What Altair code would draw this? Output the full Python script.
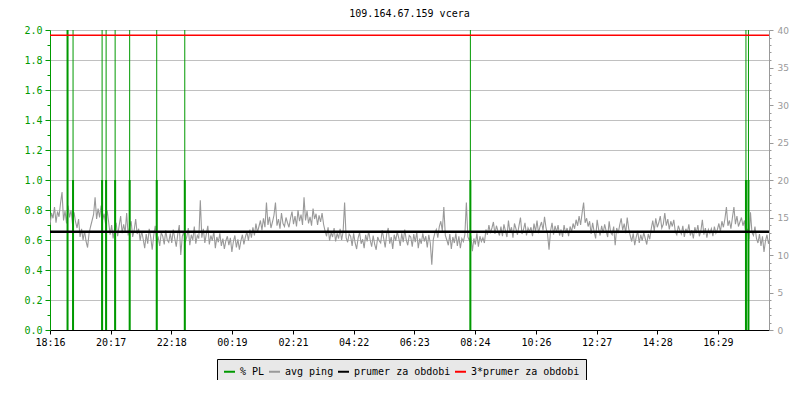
import altair as alt
import pandas as pd

# ---------------- data ----------------
title_text = "109.164.67.159 vcera"
series_names = ["% PL", "avg ping", "prumer za obdobi", "3*prumer za obdobi"]
tick_labels = ["18:16", "20:17", "22:18", "00:19", "02:21", "04:22",
               "06:23", "08:24", "10:26", "12:27", "14:28", "16:29"]
period_minutes = 1435          # length of the shown period (minutes)
sample_step = 3                # minutes between ping samples

# average ping (ms), one value every 3 minutes from 18:16
ping_ms = [
    14.0, 15.6, 14.9, 16.4, 14.3, 15.8, 15.1, 16.9, 18.4, 14.6, 15.9, 14.2, 16.6, 15.0, 16.0, 14.1, 15.7, 14.4, 13.6, 14.8,
    12.4, 13.5, 12.0, 13.2, 11.8, 11.0, 12.9, 13.8, 14.6, 15.4, 17.7, 14.8, 16.2, 15.0, 16.6, 14.7, 15.5, 14.1, 16.0, 14.4,
    12.7, 14.0, 12.2, 13.6, 14.3, 12.5, 13.9, 15.2, 12.9, 14.1, 13.0, 15.6, 12.6, 13.8, 14.5, 12.4, 13.3, 14.8, 12.8, 13.5,
    11.9, 13.2, 12.1, 10.9, 12.8, 11.5, 13.5, 12.4, 10.7, 12.6, 13.9, 11.8, 12.3, 11.2, 13.0, 12.5, 11.4, 13.3, 12.0, 11.7,
    12.9, 11.6, 13.4, 12.2, 11.1, 12.8, 14.0, 10.0, 12.5, 13.1, 11.7, 12.4, 13.6, 11.3, 12.7, 12.0, 13.8, 11.5, 12.6, 12.2,
    17.3, 12.3, 13.5, 11.6, 12.8, 13.9, 11.4, 12.6, 11.9, 13.2, 10.9, 12.4, 11.7, 12.9, 11.2, 12.2, 10.8, 11.9, 12.5, 11.3,
    12.3, 10.4, 11.8, 12.6, 11.0, 12.1, 10.7, 11.9, 12.7, 11.4, 12.4, 13.1, 11.9, 13.4, 12.3, 13.7, 12.6, 14.2, 13.0, 13.8,
    14.6, 13.3, 14.9, 13.7, 17.0, 14.0, 15.1, 13.6, 14.4, 15.3, 17.0, 13.9, 14.8, 13.5, 15.6, 14.2, 13.8, 15.0, 14.3, 13.7,
    14.9, 15.8, 14.1, 15.2, 13.8, 16.0, 14.5, 15.4, 14.0, 17.7, 14.6, 15.9, 14.2, 15.1, 13.9, 16.2, 14.8, 15.5, 14.0, 15.3,
    14.4, 15.6, 14.1, 13.2, 12.5, 13.7, 11.9, 13.0, 12.4, 13.6, 11.8, 12.9, 12.2, 13.5, 12.0, 13.1, 17.0, 12.3, 11.7, 12.8,
    12.5, 11.2, 12.9, 11.6, 10.8, 12.3, 13.0, 11.5, 12.1, 10.9, 12.7, 11.8, 13.2, 12.0, 11.1, 12.6, 11.4, 10.7, 12.4, 11.9,
    11.6, 13.3, 12.2, 11.0, 12.8, 13.6, 11.5, 12.4, 10.8, 12.7, 11.9, 13.1, 12.3, 11.2, 12.9, 11.7, 13.4, 12.0, 11.3, 12.6,
    12.4, 11.1, 12.8, 11.7, 13.1, 10.9, 12.2, 11.5, 12.9, 11.8, 12.5, 11.0, 12.7, 11.6, 8.7, 12.1, 12.9, 13.4, 12.3, 13.8,
    14.5, 13.2, 16.4, 12.6, 12.0, 11.3, 12.8, 10.8, 12.4, 11.6, 12.9, 11.2, 12.5, 10.9, 12.2, 11.8, 12.7, 17.0, 12.4, 11.9,
    12.6, 10.5, 12.2, 11.4, 12.9, 11.1, 12.5, 11.8, 12.3, 11.6, 13.4, 12.7, 14.0, 12.9, 13.6, 14.4, 12.8, 13.9, 13.2, 12.6,
    13.8, 12.5, 14.1, 13.2, 12.4, 14.6, 13.0, 13.7, 12.3, 14.2, 13.5, 12.7, 13.9, 15.0, 12.8, 13.4, 14.3, 12.6, 13.6, 13.1,
    13.7, 12.5, 14.2, 13.1, 14.6, 12.9, 13.8, 14.4, 13.3, 15.1, 13.6, 12.8, 10.7, 13.2, 14.3, 12.7, 13.9, 13.0, 14.0, 12.6,
    13.4, 12.4, 14.0, 12.9, 13.6, 12.5, 13.8, 13.1, 14.2, 13.5, 14.7, 13.9, 15.2, 14.0, 15.6, 17.0, 14.3, 14.9, 13.8, 14.5,
    12.8, 14.3, 13.1, 12.2, 14.7, 13.4, 12.6, 13.9, 12.9, 14.1, 13.2, 12.4, 14.5, 13.0, 12.7, 13.8, 11.3, 13.6, 12.9, 14.0,
    14.9, 13.3, 14.2, 12.9, 15.0, 13.5, 12.6, 11.8, 12.9, 11.3, 12.4, 13.2, 11.6, 12.7, 11.9, 13.0, 12.2, 11.4, 12.8, 12.1,
    13.5, 14.6, 13.2, 14.9, 13.7, 14.3, 15.2, 13.6, 14.1, 15.6, 13.9, 14.8, 13.4, 14.5, 13.8, 14.7, 13.1, 12.7, 13.9, 13.3,
    12.8, 13.9, 12.4, 13.5, 12.9, 14.1, 12.6, 13.3, 12.2, 13.7, 12.9, 14.0, 12.5, 13.2, 14.7, 12.7, 13.6, 12.3, 13.4, 12.9,
    13.5, 12.5, 13.8, 12.9, 13.4, 14.2, 13.1, 14.5, 13.7, 14.8, 16.4, 13.9, 14.6, 13.5, 15.0, 16.4, 14.1, 15.2, 13.8, 14.4,
    15.0, 13.9, 14.6, 12.4, 13.5, 12.1, 15.7, 13.0, 12.6, 13.8, 12.2, 11.6, 12.8, 11.2, 12.5, 10.4, 11.9, 12.7, 11.5, 12.3,
]

# packet loss events: minute offset, sustained level (%), peak (%)
pl_minutes = [35, 46, 104, 112, 130, 159, 213, 269, 839, 1389, 1394]
pl_level = [3.0, 1.0, 1.0, 1.0, 1.0, 1.0, 1.0, 1.0, 1.0, 1.0, 1.0]
pl_peak = [3.0, 3.0, 3.0, 3.0, 3.0, 3.0, 3.0, 3.0, 3.0, 3.0, 3.0]

mean_ping = 13.1
triple_mean_ping = 39.3

# ---------------- tables ----------------
def minutes_from_start(lbl):
    h, m = map(int, lbl.split(":"))
    sh, sm = map(int, tick_labels[0].split(":"))
    return ((h * 60 + m) - (sh * 60 + sm)) % 1440

tick_values = [minutes_from_start(l) for l in tick_labels]

ping_df = pd.DataFrame({
    "t": [i * sample_step for i in range(len(ping_ms))],
    "v": ping_ms,
    "series": series_names[1],
})
pl_df = pd.DataFrame({
    "t": pl_minutes, "level": pl_level, "peak": pl_peak,
    "series": series_names[0],
})
mean_df = pd.DataFrame({"v": [mean_ping], "series": [series_names[2]]})
triple_df = pd.DataFrame({"v": [triple_mean_ping], "series": [series_names[3]]})

# ---------------- styling ----------------
GREEN = "#009900"
GRAY = "#999999"
MONO = "DejaVu Sans Mono"

label_js = "[" + ",".join("'%s'" % l for l in tick_labels) + "]"
vals_js = "[" + ",".join(str(v) for v in tick_values) + "]"

x_axis = alt.Axis(
    values=tick_values,
    labelExpr=f"{label_js}[indexof({vals_js}, datum.value)]",
    title=None, grid=False, domainColor="black", tickColor="black",
    labelColor="black", labelFont=MONO, labelFontSize=10,
    tickSize=4, labelPadding=3, labelFlush=False, labelOverlap=False,
    domainWidth=1,
)
x_scale = alt.Scale(domain=[0, period_minutes], nice=False, zero=False)


def X():
    return alt.X("t:Q", scale=x_scale, axis=x_axis)


color = alt.Color(
    "series:N",
    scale=alt.Scale(domain=series_names,
                    range=[GREEN, GRAY, "#000000", "#ff0000"]),
    legend=alt.Legend(
        title=None, orient="none", legendX=167, legendY=329,
        direction="horizontal", symbolType="stroke", symbolStrokeWidth=2,
        symbolSize=121, labelFont=MONO, labelFontSize=10, labelColor="black",
        labelOffset=4, columnPadding=0, padding=6, fillColor="#e8e8e8",
        strokeColor="black", cornerRadius=0,
    ),
)

even_test = "round(datum.value*10) % 2 == 0"
left_axis = alt.Axis(
    orient="left", values=[round(k * 0.1, 1) for k in range(21)],
    labelExpr=f"{even_test} ? format(datum.value, '.1f') : ''",
    title=None, grid=True, gridColor="#c0c0c0",
    gridOpacity={"condition": {"test": even_test, "value": 1}, "value": 0},
    domainColor=GREEN, tickColor=GREEN, labelColor=GREEN,
    tickSize={"condition": {"test": even_test, "value": 5}, "value": 3},
    labelFont=MONO, labelFontSize=10, labelPadding=3,
    labelOverlap=False, labelFlush=False,
)

five_test = "datum.value % 5 == 0"
right_axis = alt.Axis(
    orient="right", values=list(range(0, 41)),
    labelExpr=f"{five_test} ? datum.value : ''",
    title=None, grid=False, domainColor=GRAY, tickColor=GRAY, labelColor=GRAY,
    tickSize={"condition": {"test": five_test, "value": 4}, "value": 2},
    labelFont="DejaVu Sans", labelFontSize=9, labelPadding=4,
    labelOverlap=False, labelFlush=False,
)

ping_scale = alt.Scale(domain=[0, 40], nice=False, zero=True)
pl_scale = alt.Scale(domain=[0, 2], nice=False, zero=True)

# ---------------- layers ----------------
ping_line = alt.Chart(ping_df).mark_line(strokeWidth=1.1, clip=True).encode(
    x=X(),
    y=alt.Y("v:Q", scale=ping_scale, axis=right_axis),
    color=color,
)

pl_thin = alt.Chart(pl_df).mark_rule(strokeWidth=1, clip=True).encode(
    x=X(),
    y=alt.Y("peak:Q", scale=pl_scale, axis=left_axis),
    y2=alt.datum(0),
    color=color,
)
pl_thick = alt.Chart(pl_df).mark_rule(strokeWidth=2, clip=True).encode(
    x=X(),
    y=alt.Y("level:Q", scale=pl_scale, axis=left_axis),
    y2=alt.datum(0),
    color=color,
)
pl_layer = alt.layer(pl_thin, pl_thick)

mean_rule = alt.Chart(mean_df).mark_rule(strokeWidth=2.5).encode(
    y=alt.Y("v:Q", scale=ping_scale, axis=None),
    color=color,
)
triple_rule = alt.Chart(triple_df).mark_rule(strokeWidth=1.6).encode(
    y=alt.Y("v:Q", scale=ping_scale, axis=None),
    color=color,
)
stat_layer = alt.layer(mean_rule, triple_rule)

chart = alt.layer(ping_line, pl_layer, stat_layer).resolve_scale(
    y="independent"
).properties(
    width=719, height=300,
    title=alt.TitleParams(title_text, font=MONO, fontSize=10,
                          fontWeight="normal", color="black",
                          anchor="middle", offset=6),
    padding={"left": 42, "top": 22, "right": 23, "bottom": 50},
    autosize=alt.AutoSizeParams(type="none"),
).configure_view(stroke=None).configure(background="white")

chart.save("out.html", embed_options={"renderer": "svg", "actions": False})
